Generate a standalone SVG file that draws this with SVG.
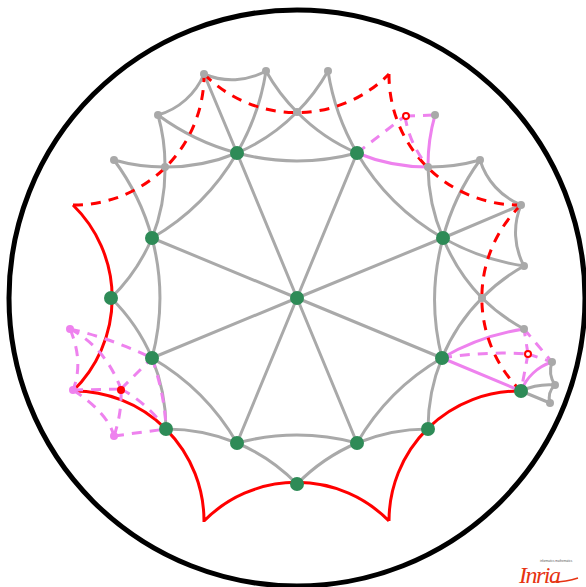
<svg xmlns="http://www.w3.org/2000/svg" width="586" height="587" viewBox="0 0 586 587">
<style>
path{fill:none}
.g{stroke:#a9a9a9;stroke-width:3}
.p{stroke:#ee82ee;stroke-width:3}
.pd{stroke:#ee82ee;stroke-width:3;stroke-dasharray:10 8}
.r{stroke:#ff0000;stroke-width:3}
.rd{stroke:#ff0000;stroke-width:3;stroke-dasharray:10 8}
.n{fill:#2e8b57}
.s{fill:#a9a9a9}
.v{fill:#ee82ee}
</style>
<circle id="disk" cx="297" cy="298" r="288" fill="none" stroke="#000" stroke-width="5"/>
<g id="connectors">
<path class="g" d="M297 298L237 153M297 298L357 153M297 298L152 238M297 298L443 238M297 298L152 358M297 298L442 358M297 298L237 443M297 298L357 443M237 153L204 74M443 238L521 205M521 391L550 403"/>
<path class="g" d="M237 153A186 186 0 0 0 297 112M297 112A186 186 0 0 0 357 153M237 153A234 234 0 0 0 357 153M266 71A185 185 0 0 0 297 112M297 112A185 185 0 0 0 328 71M237 153A234 234 0 0 0 266 71M328 71A234 234 0 0 0 357 153M204 74A71 71 0 0 0 266 71M158 115A71 71 0 0 0 204 74"/>
<path class="g" d="M158 115A234 234 0 0 0 237 153M165 167A185 185 0 0 0 158 115M114 160A185 185 0 0 0 165 167M165 167A186 186 0 0 0 237 153M152 238A234 234 0 0 0 237 153M152 238A186 186 0 0 0 165 167M152 238A234 234 0 0 0 114 160M111 298A186 186 0 0 0 152 238M152 358A234 234 0 0 0 152 238M152 358A186 186 0 0 0 111 298"/>
<path class="g" d="M166 429A186 186 0 0 0 152 358M237 443A234 234 0 0 0 152 358M237 443A186 186 0 0 0 166 429M297 484A186 186 0 0 0 237 443M357 443A186 186 0 0 0 297 484M357 443A234 234 0 0 0 237 443M428 429A186 186 0 0 0 357 443M442 358A234 234 0 0 0 357 443M442 358A186 186 0 0 0 428 429"/>
<path class="g" d="M482 298A186 186 0 0 0 442 358M443 238A234 234 0 0 0 442 358M443 238A186 186 0 0 0 482 298M443 238A234 234 0 0 0 524 266M524 266A185 185 0 0 0 482 298M482 298A185 185 0 0 0 524 329M521 205A71 71 0 0 0 524 266M480 160A71 71 0 0 0 521 205M480 160A234 234 0 0 0 443 238M428 167A185 185 0 0 0 480 160M428 167A186 186 0 0 0 443 238M357 153A234 234 0 0 0 443 238"/>
<path class="g" d="M555 385A68 68 0 0 0 521 391M552 362A26 26 0 0 0 555 385M555 385A18 18 0 0 0 550 403"/>
<path class="p" d="M357 153A186 186 0 0 0 428 167M435 115A185 185 0 0 0 428 167M524 329A234 234 0 0 0 442 358M442 358L521 391M552 362A50 50 0 0 0 521 391"/>
<path class="r" d="M73 391A130 130 0 0 0 73 205M204 522A130 130 0 0 0 73 391M389 521A130 130 0 0 0 204 521M521 391A130 130 0 0 0 389 521"/>
<path class="rd" d="M73 205A130 130 0 0 0 204 74M204 74A130 130 0 0 0 389 74M389 74A130 130 0 0 0 521 205M521 205A130 130 0 0 0 521 391"/>
<path class="pd" d="M70 329Q110 338 152 358M70 329Q84 362 73 390M70 329Q105 347 121 389M73 390L121 389M73 390Q108 413 114 436M114 436Q122 413 121 389M114 436L166 429M121 389Q147 403 166 429M121 389L152 358M152 358Q165 396 166 429"/>
<path class="pd" d="M357 153L405 116M405 116L435 115M405 116Q409 143 428 167"/>
<path class="pd" d="M442 358Q485 351 528 354M528 354L524 329M524 329L552 362M528 354L552 362M528 354L521 391"/>
</g>
<g id="small-grey">
<circle class="s" cx="204" cy="74" r="4"/><circle class="s" cx="266" cy="71" r="4"/><circle class="s" cx="328" cy="71" r="4"/><circle class="s" cx="158" cy="115" r="4"/><circle class="s" cx="114" cy="160" r="4"/><circle class="s" cx="165" cy="167" r="4"/><circle class="s" cx="297" cy="112" r="4"/><circle class="s" cx="428" cy="167" r="4"/><circle class="s" cx="480" cy="160" r="4"/><circle class="s" cx="435" cy="115" r="4"/><circle class="s" cx="521" cy="205" r="4"/><circle class="s" cx="524" cy="266" r="4"/><circle class="s" cx="482" cy="298" r="4"/><circle class="s" cx="524" cy="329" r="4"/><circle class="s" cx="552" cy="362" r="4"/><circle class="s" cx="555" cy="385" r="4"/><circle class="s" cx="550" cy="403" r="4"/>
</g>
<g id="small-violet">
<circle class="v" cx="70" cy="329" r="4"/><circle class="v" cx="73" cy="390" r="4"/><circle class="v" cx="114" cy="436" r="4"/>
</g>
<g id="green-nodes">
<circle class="n" cx="297" cy="298" r="7"/><circle class="n" cx="237" cy="153" r="7"/><circle class="n" cx="357" cy="153" r="7"/><circle class="n" cx="152" cy="238" r="7"/><circle class="n" cx="443" cy="238" r="7"/><circle class="n" cx="111" cy="298" r="7"/><circle class="n" cx="152" cy="358" r="7"/><circle class="n" cx="442" cy="358" r="7"/><circle class="n" cx="166" cy="429" r="7"/><circle class="n" cx="237" cy="443" r="7"/><circle class="n" cx="357" cy="443" r="7"/><circle class="n" cx="297" cy="484" r="7"/><circle class="n" cx="428" cy="429" r="7"/><circle class="n" cx="521" cy="391" r="7"/>
</g>
<g id="red-points">
<circle cx="121" cy="390" r="4" fill="#ff0000"/>
<circle cx="406" cy="116" r="3" fill="#fff" stroke="#ff0000" stroke-width="2"/>
<circle cx="528" cy="354" r="3" fill="#fff" stroke="#ff0000" stroke-width="2"/>
</g>
<g id="logo">
<text x="519" y="583" font-family="Liberation Serif, serif" font-style="italic" font-size="24" fill="#e63312" textLength="42">Inria</text>
<path d="M553 582Q566 582 578 578" stroke="#e63312" stroke-width="1.5"/>
<text x="540" y="562" font-family="Liberation Sans, sans-serif" font-size="3" fill="#555">informatics mathematics</text>
</g>
</svg>
